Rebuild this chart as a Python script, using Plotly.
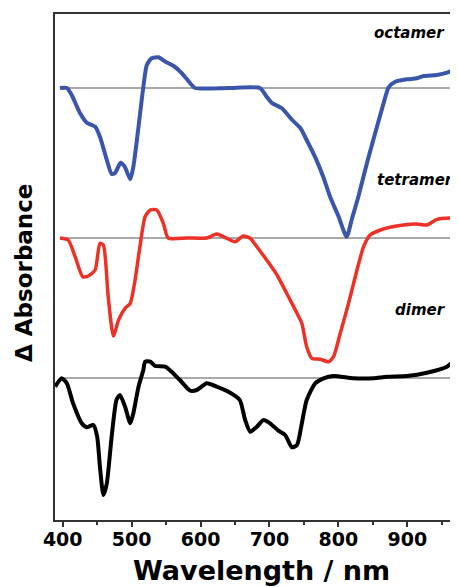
import plotly.graph_objects as go

# Wavelength (nm) and difference absorbance (arbitrary units) for each species
oct_wl = [396, 406, 413, 425, 435, 447, 454, 464, 471, 476, 484, 490, 498, 502.5, 510, 517, 522, 529, 539, 549, 561, 573, 585, 592,
          640, 686, 696, 703, 718, 733, 745, 754, 766, 778, 788, 800, 812, 820, 829, 841.5, 856, 865.6, 872.9, 882.6, 899.6, 914, 923.7, 943, 957.6, 972]
oct_dA = [0, 0, -7, -25, -34.7, -38.7, -48.7, -72, -86, -85, -74.7, -78.7, -91.3, -78.7, -38.7, 1.3, 23, 29.7, 30.7, 26.3, 22, 14.7, 4.7, 0,
          0, 0, -8.7, -14.7, -20.3, -32, -40.3, -52, -68.7, -88.7, -108.7, -128, -148.7, -130, -108.7, -75, -38.7, -15.3, 0.7, 6.3, 8.7, 9.7, 12, 13, 15.3, 19.7]

tet_wl = [396, 408, 418, 429, 437, 447, 454, 459, 466, 473.5, 481, 490.5, 498, 505, 512, 519.5, 527, 536.5, 546, 553, 580, 609, 623.6, 638,
          650, 662, 672, 681.7, 696, 711, 725, 740, 747, 754, 761.6, 773.6, 785.7, 793, 802.7, 814.8, 827, 836.6, 846, 861, 875, 894.6, 914, 928.6, 943, 972]
tet_dA = [0, -2, -18.7, -38.7, -38, -32, -5.3, -7, -58.7, -98, -82, -70.3, -65.3, -42, -8.7, 21.3, 28, 28, 14.7, 0, 0, 0, 4, -0.3,
          -3.7, 2, -0.3, -8.7, -22, -37, -55.3, -75.3, -85.3, -108.7, -120.3, -121.3, -123.7, -118.7, -95.3, -65.3, -32, -8.7, 3, 8, 10.7, 13, 14, 13, 18.7, 20.3]

dim_wl = [389, 398.5, 406, 415, 427.6, 435, 444.5, 450, 454, 459, 464, 471, 478, 483, 490.5, 498, 502.5, 510, 517, 519.5, 527, 534, 548.6, 558,
          570, 585, 594.6, 609, 623.5, 643, 657, 664.7, 672, 681.7, 691.3, 701, 713, 722.8, 732.6, 740, 747, 754, 766.4, 778.5, 793, 822, 851, 870.5,
          899.6, 928.6, 957.6, 974]
dim_dA = [-8.7, -0.3, -5.3, -25.3, -45.3, -49.3, -47, -58.7, -88.7, -117, -105.3, -58.7, -22, -17, -28.7, -45.3, -35.3, -8.7, 8, 16.3, 16.3, 12, 11.3, 6.3,
          -2, -12.7, -12, -5.3, -8.7, -14.7, -22, -42, -53.7, -48.7, -42, -45.3, -52.7, -57, -69.3, -67, -45.3, -22, -5.3, -0.3, 2, -0.3, -0.3, 1.3,
          2, 5.3, 11.3, 21.3]

# vertical offsets used to stack the spectra
offsets = {"octamer": 432, "tetramer": 282, "dimer": 142}
x_ticks = [400, 500, 600, 700, 800, 900]

series = [
    ("octamer", oct_wl, oct_dA, "#3a56ab", 4),
    ("tetramer", tet_wl, tet_dA, "#ec3127", 3.5),
    ("dimer", dim_wl, dim_dA, "#000000", 4),
]

FONT = "DejaVu Sans"

fig = go.Figure()
for name, wl, dA, col, w in series:
    off = offsets[name]
    fig.add_shape(type="line", xref="x", yref="y", x0=396, x1=980, y0=off, y1=off,
                  line=dict(color="#555555", width=1), layer="below")
    fig.add_trace(go.Scatter(x=wl, y=[v + off for v in dA], mode="lines", name=name,
                             line=dict(color=col, width=w, shape="spline", smoothing=0.6),
                             showlegend=False))

label_pos = {"octamer": (0.972, 0.962), "tetramer": (0.995, 0.672), "dimer": (0.975, 0.415)}
for name, (lx, ly) in label_pos.items():
    fig.add_annotation(x=lx, y=ly, xref="paper", yref="paper", text=f"<b><i>{name}</i></b>",
                       showarrow=False, xanchor="right", yanchor="middle",
                       font=dict(family=FONT, size=15, color="black"))

bold = dict(family=FONT, color="black")
# axis titles placed as paper annotations
fig.add_annotation(x=0.513, y=-0.099, xref="paper", yref="paper", text="<b>Wavelength / nm</b>",
                   showarrow=False, xanchor="center", yanchor="middle", font=dict(size=27, **bold))
fig.add_annotation(x=-0.077, y=0.490, xref="paper", yref="paper", text="<b>Δ Absorbance</b>", textangle=-90,
                   showarrow=False, xanchor="center", yanchor="middle", font=dict(size=23, **bold))

# page body adds an 8px offset; margins compensate so the plot lands where the reference has it
fig.update_layout(
    width=450, height=579,
    margin=dict(l=47, r=0, t=6, b=67, autoexpand=False),
    paper_bgcolor="white", plot_bgcolor="white",
    xaxis=dict(range=[388.8, 973.6], tickvals=x_ticks, ticktext=[f"<b>{t}</b>" for t in x_ticks],
               ticks="outside", ticklen=5, tickwidth=1.5, tickcolor="#333333",
               minor=dict(tickvals=[450, 550, 650, 750, 850, 950], ticks="outside", ticklen=3, tickwidth=1.5, tickcolor="#333333"),
               showline=True, linecolor="#333333", linewidth=1.5, mirror=True, automargin=False,
               showgrid=False, zeroline=False, ticklabelstandoff=-4,
               tickfont=dict(size=19, **bold)),
    yaxis=dict(range=[0, 506], showticklabels=False, ticks="", showline=True, linecolor="#333333", linewidth=1.5,
               showgrid=False, zeroline=False, automargin=False),
)

fig.write_html("out.html")
